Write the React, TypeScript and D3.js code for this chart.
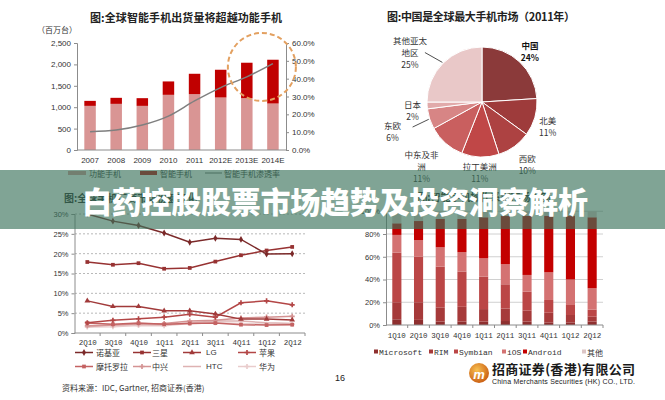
import React, { useRef, useEffect } from 'react';
import * as d3 from 'd3';

// chart 1: shipments (million units)
const years = ['2007', '2008', '2009', '2010', '2011', '2012E', '2013E', '2014E'];
const featureShip = [1031, 1078, 1031, 1289, 1305, 1227, 1211, 1086];
const smartShip = [117, 141, 180, 313, 476, 648, 828, 1023];
const smartPct = [10.3, 11.2, 14.0, 19.0, 27.5, 35.0, 41.0, 48.4];
const shipTicks = [0, 500, 1000, 1500, 2000, 2500];
const pctTicks = [0, 10, 20, 30, 40, 50, 60];

// chart 2: 2011 handset market by region
const regions = ['中国', '北美', '西欧', '拉丁美洲', '中东及非洲', '东欧', '日本', '其他亚太地区'];
const regionLabels = ['中国', '北美', '西欧', '拉丁美洲', '中东及非\n洲', '东欧', '日本', '其他亚太\n地区'];
const regionShare = [24, 11, 10, 11, 11, 6, 2, 25];

// chart 3: vendor share
const vendorQuarters = ['2Q10', '3Q10', '4Q10', '1Q11', '2Q11', '3Q11', '4Q11', '1Q12', '2Q12'];
const vendorNames = ['诺基亚', '三星', 'LG', '苹果', '摩托罗拉', '中兴', 'HTC', '华为'];
const nokia = [30.0, 28.2, 27.1, 25.2, 22.9, 23.9, 23.6, 19.9, 20.0];
const samsung = [17.9, 17.2, 17.6, 16.2, 16.4, 18.0, 19.6, 20.8, 21.7];
const lg = [8.1, 6.7, 6.7, 5.6, 5.6, 4.8, 3.5, 3.5, 3.3];
const apple = [2.6, 3.2, 3.6, 4.0, 4.7, 4.0, 7.6, 8.1, 7.1];
const motorola = [2.5, 2.2, 2.5, 2.2, 2.4, 2.5, 2.1, 2.0, 2.1];
const zte = [1.8, 2.0, 2.3, 2.4, 3.0, 3.2, 3.8, 4.0, 4.2];
const htc = [1.6, 2.0, 2.2, 2.0, 2.6, 3.0, 3.0, 2.6, 2.4];
const huawei = [1.5, 1.6, 1.9, 1.8, 2.4, 2.6, 2.4, 2.2, 2.2];
const vendorTicks = [0, 5, 10, 15, 20, 25, 30];

// chart 4: smartphone OS share
const osQuarters = ['1Q10', '2Q10', '3Q10', '4Q10', '1Q11', '2Q11', '3Q11', '4Q11', '1Q12', '2Q12'];
const osNames = ['Microsoft', 'RIM', 'Symbian', 'iOS', 'Android', '其他'];
const osMicrosoft = [5, 4.5, 3, 3, 3, 3.5, 3, 2.3, 2.3, 3];
const osRim = [15, 15.5, 12.5, 13, 11, 11, 9.6, 8.5, 6.5, 4.3];
const osSymbian = [43.6, 40, 35.8, 31, 28.5, 21.3, 16.7, 11.2, 8.8, 6.2];
const osIos = [15.6, 14.7, 17, 17, 16.1, 17.6, 14.7, 24.3, 22.4, 18.8];
const osAndroid = [10.2, 16.7, 24.9, 29.2, 36.1, 42.4, 52.1, 49.8, 55.8, 62.4];
const osOther = [10.6, 8.6, 6.8, 6.8, 5.3, 4.2, 3.9, 3.9, 4.2, 5.3];
const osTicks = [0, 20, 40, 60, 80, 100];

const CJK = '"Noto Sans CJK SC", sans-serif';
const LAT = '"Liberation Sans", Arial, sans-serif';
const MONO = '"Liberation Mono", monospace';
const AXIS = '#8c8c8c';
const TXT = '#333';

type Sel = d3.Selection<SVGGElement, unknown, null, undefined>;

function styleAxis(g: Sel, font = LAT, size = 8) {
  g.selectAll('path').attr('stroke', AXIS);
  g.selectAll('line').attr('stroke', AXIS);
  g.selectAll('text').attr('fill', TXT).attr('font-family', font).attr('font-size', size);
}

function drawShipments(root: Sel) {
  const g = root.append('g');
  const x = d3.scaleBand().domain(years).range([77, 286]).paddingInner(0.56).paddingOuter(0.28);
  const y = d3.scaleLinear().domain([0, 2500]).range([150, 43]);
  const yr = d3.scaleLinear().domain([0, 60]).range([150, 43]);

  g.append('text').attr('x', 186).attr('y', 17).attr('text-anchor', 'middle').attr('dominant-baseline', 'central')
    .attr('font-family', CJK).attr('font-size', 11).attr('font-weight', 'bold').attr('fill', '#222')
    .attr('textLength', 192).text('图:全球智能手机出货量将超越功能手机');
  g.append('text').attr('x', 57).attr('y', 29).attr('text-anchor', 'middle').attr('dominant-baseline', 'central')
    .attr('font-family', CJK).attr('font-size', 8).attr('fill', TXT).text('（百万台）');

  years.forEach((yr0, i) => {
    const bx = x(yr0)!;
    g.append('rect').attr('x', bx).attr('width', x.bandwidth())
      .attr('y', y(featureShip[i])).attr('height', y(0) - y(featureShip[i])).attr('fill', '#d99594');
    g.append('rect').attr('x', bx).attr('width', x.bandwidth())
      .attr('y', y(featureShip[i] + smartShip[i])).attr('height', y(0) - y(smartShip[i])).attr('fill', '#c00000');
  });

  const ax = g.append('g').attr('transform', 'translate(77,0)')
    .call(d3.axisLeft(y).tickValues(shipTicks).tickSize(3).tickPadding(3).tickFormat(d3.format(',') as any));
  styleAxis(ax);
  const ar = g.append('g').attr('transform', 'translate(286,0)')
    .call(d3.axisRight(yr).tickValues(pctTicks).tickSize(3).tickPadding(3).tickFormat((d: any) => `${(+d).toFixed(1)}%`));
  styleAxis(ar);
  const ab = g.append('g').attr('transform', 'translate(0,150)')
    .call(d3.axisBottom(x).tickSize(0).tickPadding(7));
  styleAxis(ab);
  ab.select('.domain').attr('d', 'M77,0H286');

  const line = d3.line<number>()
    .x((_, i) => x(years[i])! + x.bandwidth() / 2)
    .y(d => yr(d))
    .curve(d3.curveMonotoneX);
  g.append('path').attr('d', line(smartPct)).attr('fill', 'none').attr('stroke', '#7f7f7f').attr('stroke-width', 1.5);

  // dashed highlight round the last two forecast years
  const cx = (x('2013E')! + x('2014E')! + x.bandwidth()) / 2 + 2;
  g.append('circle').attr('cx', cx).attr('cy', y(1940)).attr('r', 34)
    .attr('fill', 'none').attr('stroke', '#e3a060').attr('stroke-width', 2).attr('stroke-dasharray', '5,3');

  // legend
  const ly = 173;
  g.append('rect').attr('x', 68).attr('y', ly - 2).attr('width', 18).attr('height', 4).attr('fill', '#d99594');
  g.append('text').attr('x', 89).attr('y', ly).attr('dominant-baseline', 'central').attr('font-family', CJK)
    .attr('font-size', 8).attr('fill', TXT).text('功能手机');
  g.append('rect').attr('x', 140).attr('y', ly - 2).attr('width', 17).attr('height', 4).attr('fill', '#c00000');
  g.append('text').attr('x', 160).attr('y', ly).attr('dominant-baseline', 'central').attr('font-family', CJK)
    .attr('font-size', 8).attr('fill', TXT).text('智能手机');
  g.append('line').attr('x1', 205).attr('x2', 222).attr('y1', ly).attr('y2', ly).attr('stroke', '#7f7f7f').attr('stroke-width', 1.2);
  g.append('text').attr('x', 224).attr('y', ly).attr('dominant-baseline', 'central').attr('font-family', CJK)
    .attr('font-size', 8).attr('fill', TXT).text('智能手机渗透率');
}

function drawPie(root: Sel) {
  const g = root.append('g');
  g.append('text').attr('x', 481).attr('y', 16).attr('text-anchor', 'middle').attr('dominant-baseline', 'central')
    .attr('font-family', CJK).attr('font-size', 11).attr('font-weight', 'bold').attr('fill', '#222')
    .attr('textLength', 188).text('图:中国是全球最大手机市场（2011年）');

  const cx = 482, cy = 102, r = 55;
  const colors = ['#8b3a3a', '#9e3b3b', '#ad4242', '#c04747', '#c95f5f', '#d78585', '#e1aaaa', '#e9c8c8'];
  const pie = d3.pie<number>().sort(null).value(d => d);
  const arcs = pie(regionShare);
  const arc = d3.arc<d3.PieArcDatum<number>>().innerRadius(0).outerRadius(r);
  const pg = g.append('g').attr('transform', `translate(${cx},${cy})`);
  pg.selectAll('path').data(arcs).enter().append('path')
    .attr('d', arc as any).attr('fill', (_, i) => colors[i]).attr('stroke', '#fff').attr('stroke-width', 1);

  const labelRadius = [70, 70, 77, 70, 88, 94, 70, 88];
  const labelTurn = [0, 4, 0, 0, 2, 0, -3, -10];
  const leader: Record<number, [number, number]> = { 5: [20, -4], 7: [15, 1] };
  arcs.forEach((a, i) => {
    const mid = (a.startAngle + a.endAngle) / 2;
    const ang = mid + (labelTurn[i] * Math.PI) / 180;
    const lx = cx + Math.sin(ang) * labelRadius[i];
    const lyc = cy - Math.cos(ang) * labelRadius[i];
    const lines = [...regionLabels[i].split('\n'), `${regionShare[i]}%`];
    const top = lyc - ((lines.length - 1) * 12) / 2;
    lines.forEach((t, k) => {
      g.append('text').attr('x', lx).attr('y', top + k * 12).attr('text-anchor', 'middle')
        .attr('dominant-baseline', 'central').attr('font-family', CJK).attr('font-size', 8.5)
        .attr('font-weight', i === 0 ? 'bold' : 'normal').attr('fill', i === 0 ? '#111' : TXT).text(t);
    });
    if (leader[i]) {
      const ex = cx + Math.sin(mid) * (r + 1);
      const ey = cy - Math.cos(mid) * (r + 1);
      g.append('line').attr('x1', ex).attr('y1', ey).attr('x2', lx + leader[i][0]).attr('y2', lyc + leader[i][1])
        .attr('stroke', '#222').attr('stroke-width', 0.8);
    }
  });
}

function drawVendors(root: Sel) {
  const g = root.append('g');
  g.append('text').attr('x', 64).attr('y', 197).attr('dominant-baseline', 'central')
    .attr('font-family', CJK).attr('font-size', 10).attr('font-weight', 'bold').attr('fill', '#222')
    .text('图:全球手机厂商市场份额变化');

  const x = d3.scalePoint().domain(vendorQuarters).range([74.5, 305]).padding(0.5);
  const y = d3.scaleLinear().domain([0, 30]).range([333, 214]);

  vendorTicks.slice(1).forEach(t => {
    g.append('line').attr('x1', 75).attr('x2', 305).attr('y1', y(t)).attr('y2', y(t))
      .attr('stroke', '#a6a6a6').attr('stroke-width', 0.8).attr('stroke-dasharray', '2,2');
  });
  const ax = g.append('g').attr('transform', 'translate(74.5,0)')
    .call(d3.axisLeft(y).tickValues(vendorTicks).tickSize(3).tickPadding(3).tickFormat((d: any) => `${d}%`));
  styleAxis(ax, LAT, 7.5);
  const ab = g.append('g').attr('transform', 'translate(0,333)')
    .call(d3.axisBottom(x).tickSize(0).tickPadding(7));
  styleAxis(ab, MONO, 7.5);
  ab.select('.domain').attr('d', 'M74.5,0H305');
  const step = x.step();
  vendorQuarters.forEach((_, i) => {
    const tx = 74.5 + step * (i + 1);
    g.append('line').attr('x1', tx).attr('x2', tx).attr('y1', 333).attr('y2', 336).attr('stroke', AXIS);
  });

  const series = [nokia, samsung, lg, apple, motorola, zte, htc, huawei];
  const colors = ['#7b2929', '#973232', '#a13a3a', '#b34646', '#c46262', '#d49393', '#deb2b2', '#e9cccc'];
  const symbols: (d3.SymbolType | null)[] = [
    d3.symbolDiamond, d3.symbolSquare, d3.symbolTriangle, d3.symbolCross,
    d3.symbolSquare, d3.symbolCross, null, d3.symbolCross,
  ];
  const line = d3.line<number>().x((_, i) => x(vendorQuarters[i])!).y(d => y(d));
  const order = [7, 6, 5, 4, 3, 2, 1, 0];
  order.forEach(s => {
    g.append('path').attr('d', line(series[s])).attr('fill', 'none').attr('stroke', colors[s]).attr('stroke-width', 1.5);
    const sym = symbols[s];
    if (sym) {
      series[s].forEach((v, i) => {
        g.append('path').attr('d', d3.symbol().type(sym).size(14)())
          .attr('transform', `translate(${x(vendorQuarters[i])},${y(v)})`).attr('fill', colors[s]);
      });
    }
  });

  // legend
  const colLine = [75, 133, 183, 238];
  const colText = [96, 152, 206, 259];
  vendorNames.forEach((name, i) => {
    const row = Math.floor(i / 4);
    const col = i % 4;
    const ly = 352.5 + row * 14;
    g.append('line').attr('x1', colLine[col]).attr('x2', colLine[col] + 18).attr('y1', ly).attr('y2', ly)
      .attr('stroke', colors[i]).attr('stroke-width', 1.5);
    const sym = symbols[i];
    if (sym) {
      g.append('path').attr('d', d3.symbol().type(sym).size(14)())
        .attr('transform', `translate(${colLine[col] + 9},${ly})`).attr('fill', colors[i]);
    }
    g.append('text').attr('x', colText[col]).attr('y', ly).attr('dominant-baseline', 'central')
      .attr('font-family', name === 'LG' || name === 'HTC' ? LAT : CJK).attr('font-size', 8).attr('fill', TXT).text(name);
  });

  g.append('text').attr('x', 62).attr('y', 387).attr('dominant-baseline', 'central')
    .attr('font-family', CJK).attr('font-size', 8).attr('fill', TXT).text('资料来源：IDC, Gartner, 招商证券(香港)');
}

function drawOs(root: Sel) {
  const g = root.append('g');
  g.append('text').attr('x', 484).attr('y', 196).attr('text-anchor', 'middle').attr('dominant-baseline', 'central')
    .attr('font-family', CJK).attr('font-size', 10).attr('font-weight', 'bold').attr('fill', '#222')
    .text('图:智能手机操作系统市场份额');

  const x = d3.scaleBand().domain(osQuarters).range([386, 603]).paddingInner(0.58).paddingOuter(0.29);
  const y = d3.scaleLinear().domain([0, 100]).range([325, 211.25]);

  osTicks.slice(1).forEach(t => {
    g.append('line').attr('x1', 386).attr('x2', 603).attr('y1', y(t)).attr('y2', y(t))
      .attr('stroke', '#c4c4c4').attr('stroke-width', 0.8);
  });

  const cols = [osMicrosoft, osRim, osSymbian, osIos, osAndroid, osOther];
  const rows = osQuarters.map((q, i) => {
    const row: Record<string, number | string> = { q };
    osNames.forEach((n, k) => { row[n] = cols[k][i]; });
    return row;
  });
  const stack = d3.stack<Record<string, number | string>>().keys(osNames).value((d, k) => d[k] as number);
  const layers = stack(rows);
  const colors = ['#8e2f2f', '#a63a3a', '#bb4646', '#d47272', '#c30000', '#dcc5c5'];
  layers.forEach((layer, k) => {
    layer.forEach(seg => {
      g.append('rect').attr('x', x(seg.data.q as string)!).attr('width', x.bandwidth())
        .attr('y', y(seg[1])).attr('height', y(seg[0]) - y(seg[1])).attr('fill', colors[k]);
    });
  });

  const ax = g.append('g').attr('transform', 'translate(386,0)')
    .call(d3.axisLeft(y).tickValues(osTicks).tickSize(3).tickPadding(3).tickFormat((d: any) => `${d}%`));
  styleAxis(ax, LAT, 7.5);
  const ab = g.append('g').attr('transform', 'translate(0,325)')
    .call(d3.axisBottom(x).tickSize(0).tickPadding(8));
  styleAxis(ab, MONO, 7.5);
  ab.select('.domain').attr('d', 'M386,0H603');
  osQuarters.forEach((_, i) => {
    const tx = 386 + x.step() * (i + 1);
    g.append('line').attr('x1', tx).attr('x2', tx).attr('y1', 325).attr('y2', 328).attr('stroke', AXIS);
  });

  // legend
  const swatchX = [374, 429, 454, 502, 523, 582];
  osNames.forEach((n, k) => {
    g.append('rect').attr('x', swatchX[k]).attr('y', 349.5).attr('width', 4).attr('height', 4).attr('fill', colors[k]);
    g.append('text').attr('x', swatchX[k] + 5).attr('y', 352).attr('dominant-baseline', 'central')
      .attr('font-family', n === '其他' ? CJK : MONO).attr('font-size', 8).attr('fill', TXT).text(n);
  });
}

function drawFooter(root: Sel) {
  const g = root.append('g');
  g.append('text').attr('x', 340).attr('y', 378).attr('text-anchor', 'middle').attr('dominant-baseline', 'central')
    .attr('font-family', LAT).attr('font-size', 9).attr('fill', '#222').text('16');

  const defs = root.append('defs');
  const grad = defs.append('radialGradient').attr('id', 'logoGrad').attr('cx', '40%').attr('cy', '35%').attr('r', '70%');
  grad.append('stop').attr('offset', '0%').attr('stop-color', '#f8c050');
  grad.append('stop').attr('offset', '100%').attr('stop-color', '#c85a10');
  g.append('circle').attr('cx', 479).attr('cy', 373).attr('r', 10).attr('fill', 'url(#logoGrad)');
  g.append('text').attr('x', 479).attr('y', 374).attr('text-anchor', 'middle').attr('dominant-baseline', 'central')
    .attr('font-family', LAT).attr('font-size', 13).attr('font-weight', 'bold').attr('font-style', 'italic')
    .attr('fill', '#fff').text('m');
  g.append('text').attr('x', 492).attr('y', 368).attr('dominant-baseline', 'central')
    .attr('font-family', CJK).attr('font-size', 13).attr('font-weight', 'bold').attr('fill', '#1a1a1a')
    .attr('textLength', 143).text('招商证券(香港)有限公司');
  g.append('text').attr('x', 492).attr('y', 381.5).attr('dominant-baseline', 'central')
    .attr('font-family', LAT).attr('font-size', 7).attr('fill', '#1a1a1a')
    .attr('textLength', 143).text('China Merchants Securities (HK) CO., LTD.');
}

function drawBanner(root: Sel) {
  const g = root.append('g');
  g.append('rect').attr('x', 0).attr('y', 170).attr('width', 665).attr('height', 59)
    .attr('fill', 'rgb(60,115,92)').attr('opacity', 0.65);
  g.append('text').attr('x', 335).attr('y', 200).attr('text-anchor', 'middle').attr('dominant-baseline', 'central')
    .attr('font-family', CJK).attr('font-size', 30).attr('font-weight', 900).attr('fill', '#fff')
    .attr('textLength', 506).text('白药控股股票市场趋势及投资洞察解析');
}

const App: React.FC = () => {
  const svgRef = useRef<SVGSVGElement>(null);

  useEffect(() => {
    if (!svgRef.current) return;
    const svg = d3.select(svgRef.current);
    svg.selectAll('*').remove();
    const root = svg.append('g') as unknown as Sel;
    root.append('rect').attr('width', 665).attr('height', 400).attr('fill', '#fff');
    drawShipments(root);
    drawPie(root);
    drawVendors(root);
    drawOs(root);
    drawFooter(root);
    drawBanner(root);
  }, []);

  return (
    <svg
      ref={svgRef}
      width={665}
      height={400}
      style={{ position: 'absolute', left: 0, top: 0, display: 'block' }}
    />
  );
};

export default App;
